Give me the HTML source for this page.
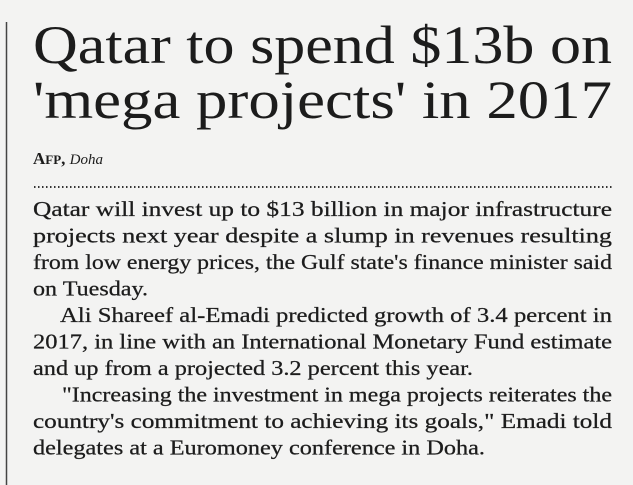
<!DOCTYPE html>
<html><head><meta charset="utf-8"><style>
html,body{margin:0;padding:0;background:#f3f3f2;}
svg{display:block;}
text{font-family:"Liberation Serif",serif;fill:#1c1c1c;}
</style></head><body>
<svg width="633" height="485" viewBox="0 0 633 485">
<rect x="0" y="0" width="633" height="485" fill="#f3f3f2"/>
<line x1="6.5" y1="22" x2="6.5" y2="485" stroke="#444" stroke-width="1.5"/>
<g>
<text x="33" y="63" font-size="54" textLength="579" lengthAdjust="spacingAndGlyphs">Qatar to spend $13b on</text>
<text x="33" y="118" font-size="54" textLength="579" lengthAdjust="spacingAndGlyphs">'mega projects' in 2017</text>
</g>
<text x="33" y="164" font-size="17" font-weight="bold">A<tspan font-size="13">FP</tspan>, <tspan font-style="italic" font-weight="normal" font-size="15">Doha</tspan></text>
<line x1="34" y1="187" x2="612" y2="187" stroke="#333" stroke-width="2" stroke-dasharray="1.5 2.5"/>
<g font-size="21" stroke="#1c1c1c" stroke-width="0.25">
<text x="33" y="216" textLength="579" lengthAdjust="spacingAndGlyphs">Qatar will invest up to $13 billion in major infrastructure</text>
<text x="33" y="242.5" textLength="579" lengthAdjust="spacingAndGlyphs">projects next year despite a slump in revenues resulting</text>
<text x="33" y="269" textLength="579" lengthAdjust="spacingAndGlyphs">from low energy prices, the Gulf state's finance minister said</text>
<text x="33" y="295.5" textLength="115" lengthAdjust="spacingAndGlyphs">on Tuesday.</text>
<text x="60" y="322" textLength="552" lengthAdjust="spacingAndGlyphs">Ali Shareef al-Emadi predicted growth of 3.4 percent in</text>
<text x="33" y="348.5" textLength="579" lengthAdjust="spacingAndGlyphs">2017, in line with an International Monetary Fund estimate</text>
<text x="33" y="375" textLength="440" lengthAdjust="spacingAndGlyphs">and up from a projected 3.2 percent this year.</text>
<text x="62" y="401.5" textLength="550" lengthAdjust="spacingAndGlyphs">"Increasing the investment in mega projects reiterates the</text>
<text x="33" y="428" textLength="579" lengthAdjust="spacingAndGlyphs">country's commitment to achieving its goals," Emadi told</text>
<text x="33" y="454.5" textLength="452" lengthAdjust="spacingAndGlyphs">delegates at a Euromoney conference in Doha.</text>
</g>
</svg>
</body></html>
